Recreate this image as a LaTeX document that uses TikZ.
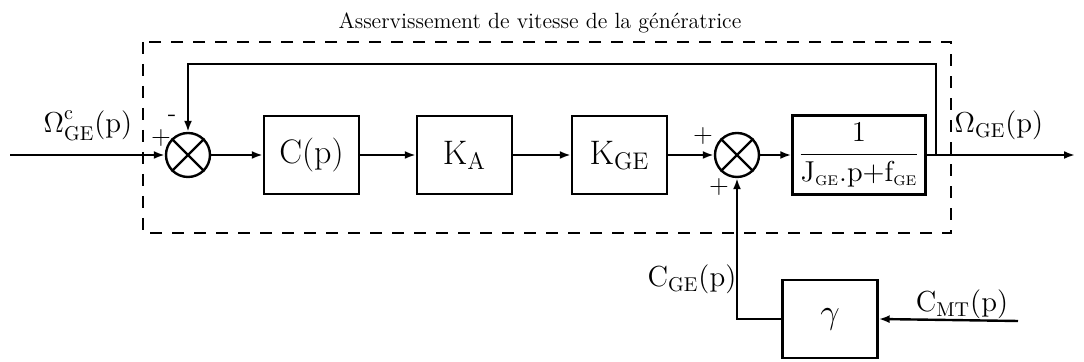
\documentclass[tikz,border=0pt]{standalone}
\usetikzlibrary{arrows.meta}
\begin{document}
\begin{tikzpicture}[x=0.5pt,y=-0.5pt,
  line width=1.2pt,
  arr/.style={-{Latex[length=5.5pt,width=4pt]}},
  blk/.style={draw,rectangle,minimum width=47.5pt,minimum height=39pt,inner sep=0pt,font=\fontsize{17}{19}\selectfont},
  sumnode/.style={draw,circle,minimum size=22pt,inner sep=0pt},
  lbl/.style={font=\fontsize{14.5}{17}\selectfont,anchor=base,inner sep=0pt},
  sgn/.style={font=\fontsize{13}{15}\selectfont,inner sep=0pt},
  dashbox/.style={dash pattern=on 6pt off 5pt,line width=1.1pt}]
\useasboundingbox (0,0) rectangle (1084,362);
% dashed region
\draw[dashbox] (143,42) rectangle (951,233);
\node[font=\fontsize{11}{13}\selectfont,anchor=base] (title) at (540,29) {Asservissement de vitesse de la génératrice};
% nodes
\node[sumnode] (s1) at (188,155) {};
\draw (s1.north east) -- (s1.south west) (s1.north west) -- (s1.south east);
\node[blk] (C) at (311.5,155) {C(p)};
\node[blk] (KA) at (464.5,155) {K$_{\mathrm{A}}$};
\node[blk] (KGE) at (619.5,155) {K$_{\mathrm{GE}}$};
\node[sumnode] (s2) at (737,155) {};
\draw (s2.north east) -- (s2.south west) (s2.north west) -- (s2.south east);
\node[blk,minimum width=66.5pt,minimum height=39.5pt,font=\fontsize{15}{17}\selectfont] (TF) at (859,155)
  {$\displaystyle\frac{\mathrm{1}}{\mathrm{J}_{\scriptscriptstyle\mathrm{GE}}.\mathrm{p}{+}\mathrm{f}_{\scriptscriptstyle\mathrm{GE}}}$};
\node[blk] (G) at (830,319) {$\gamma$};
% coordinates
\coordinate (in) at (10,155);
\coordinate (out) at (1075,155);
\coordinate (br) at (936,155);
\coordinate (fb) at (936,64);
\coordinate (cmt) at (1018,321);
% connectors
\draw[arr] (in) -- (s1.west);
\draw[arr] (s1.east) -- (C.west);
\draw[arr] (C.east) -- (KA.west);
\draw[arr] (KA.east) -- (KGE.west);
\draw[arr] (KGE.east) -- (s2.west);
\draw[arr] (s2.east) -- (TF.west);
\draw[arr] (TF.east) -- (out);
\draw[arr] (br) -- (fb) -| (s1.north);
\draw[arr] (cmt) -- (G.east);
\draw[arr] (G.west) -| (s2.south);
% labels
\node[lbl] (lin) at (88,133) {$\Omega^{\raisebox{1.5pt}{$\scriptstyle\mathrm{c}$}}_{\mathrm{GE}}$(p)};
\node[lbl] (lout) at (999,133) {$\Omega_{\mathrm{GE}}$(p)};
\node[lbl] (lcge) at (692,287) {C$_{\mathrm{GE}}$(p)};
\node[lbl] (lcmt) at (962,312) {C$_{\mathrm{MT}}$(p)};
% signs
\node[sgn] (p1) at (161,138) {+};
\node[sgn] (m1) at (172,118) {-};
\node[sgn] (p2) at (703,136) {+};
\node[sgn] (p3) at (719,187) {+};
\end{tikzpicture}
\end{document}
